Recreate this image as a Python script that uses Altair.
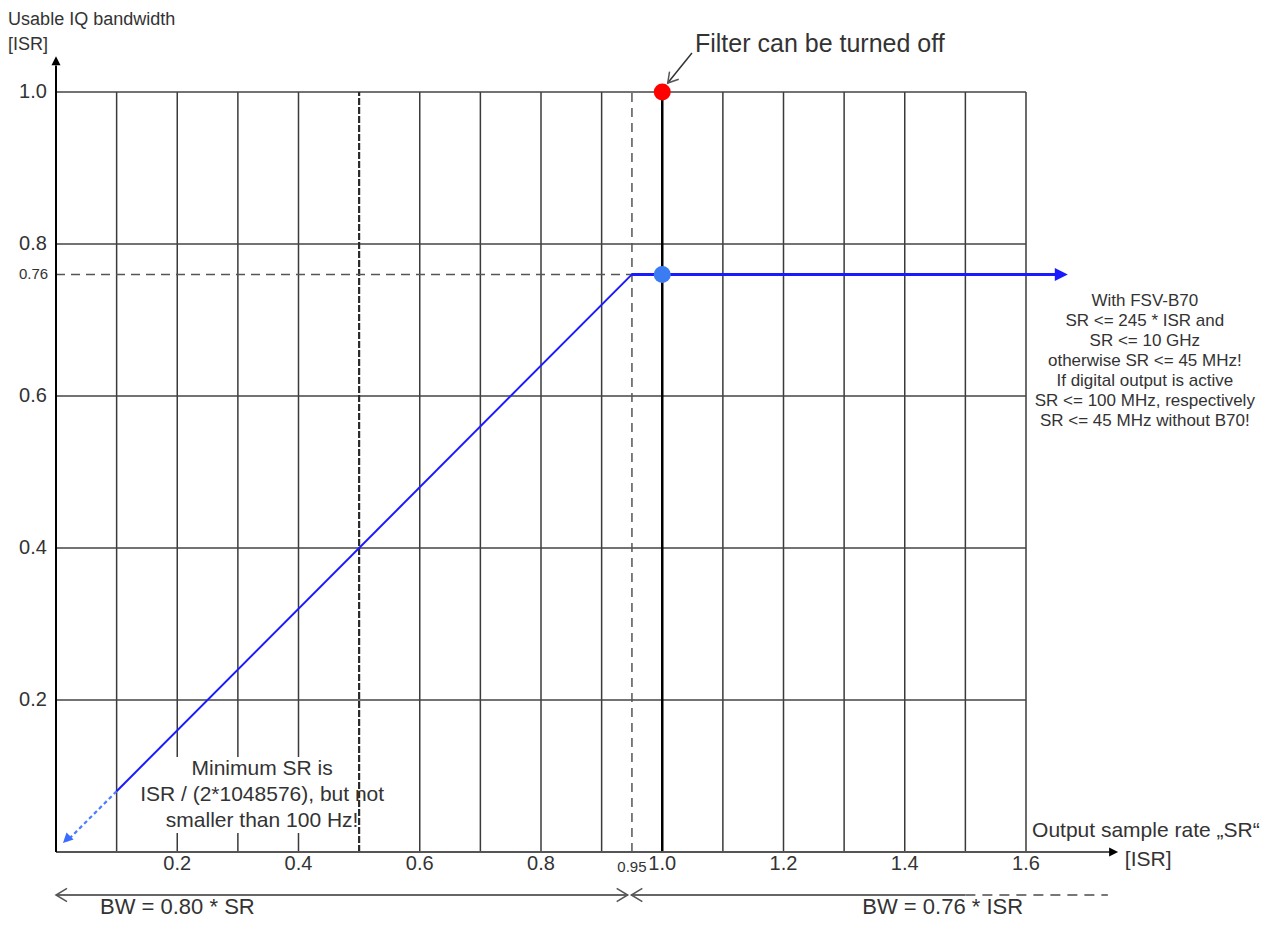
import altair as alt
import pandas as pd

FONT = "Liberation Sans"
TXT = "#333333"

# ---------------- data ----------------
grid_x = [0.1, 0.2, 0.3, 0.4, 0.6, 0.7, 0.8, 0.9, 1.1, 1.2, 1.3, 1.4, 1.5, 1.6]
grid_y = [0.2, 0.4, 0.6, 0.8, 1.0]
x_tick_values = [0.2, 0.4, 0.6, 0.8, 1.0, 1.2, 1.4, 1.6]
x_tick_labels = ["0.2", "0.4", "0.6", "0.8", "1.0", "1.2", "1.4", "1.6"]
y_tick_values = [0.2, 0.4, 0.6, 0.8, 1.0]
y_tick_labels = ["0.2", "0.4", "0.6", "0.8", "1.0"]
knee_sr = [0.95]
knee_sr_label = ["0.95"]
bw_const = [0.76]
bw_const_label = ["0.76"]
half_sr = [0.5]
full_sr = [1.0]

x_domain = [0.0, 1.6]
y_domain = [0.0, 1.0]

# usable bandwidth curve (BW = 0.80*SR up to 0.95, then 0.76)
curve_sr = [0.10, 0.95, 1.648]
curve_bw = [0.08, 0.76, 0.76]
# dashed continuation toward minimum SR
ext_sr = [0.10, 0.018]
ext_bw = [0.08, 0.0144]

blue_pt_sr = [1.0]
blue_pt_bw = [0.76]
red_pt_sr = [1.0]
red_pt_bw = [1.0]

# axis extents (arrows)
x_axis_end = 1.74
y_axis_end = 1.035

# annotation arrows
filter_arrow_from = (1.049, 1.0513)
filter_arrow_to = (1.009, 1.0118)
range_y = -0.0566
low_range = (0.0, 0.943)
high_range_solid = (0.949, 1.5)
high_range_dash = (1.5, 1.735)

# texts
filter_text = "Filter can be turned off"
fsv_note = ["With FSV-B70", "SR <= 245 * ISR and", "SR <= 10 GHz",
            "otherwise SR <= 45 MHz!", "If digital output is active",
            "SR <= 100 MHz, respectively", "SR <= 45 MHz without B70!"]
min_note = ["Minimum SR is", "ISR / (2*1048576), but not", "smaller than 100 Hz!"]
bw_low_text = "BW = 0.80 * SR"
bw_high_text = "BW = 0.76 * ISR"
x_title = ["Output sample rate \u201eSR\u201c", "[ISR]"]
y_title = ["Usable IQ bandwidth", "[ISR]"]

# ---------------- helpers ----------------
xs = alt.Scale(domain=x_domain, nice=False, zero=False)
ys = alt.Scale(domain=y_domain, nice=False, zero=False)


def X(f):
    return alt.X(f, type="quantitative", scale=xs, axis=None)


def Y(f):
    return alt.Y(f, type="quantitative", scale=ys, axis=None)


def seg_layer(df, **mk):
    return alt.Chart(df).mark_rule(**mk).encode(
        x=X("x"), y=Y("y"), x2="x2", y2="y2")


def text_layer(df, **mk):
    base = dict(font=FONT, color=TXT, lineBreak="\n")
    base.update(mk)
    return alt.Chart(df).mark_text(**base).encode(x=X("x"), y=Y("y"), text="t:N")


ARROW_FILLED = "M -1 -0.5 L 0 0 L -1 0.5 Z"
CHEVRON = "M -1 -0.6 L 0 0 L -1 0.6"

layers = []

# white box behind minimum SR note
box_df = pd.DataFrame({"x": [0.14], "x2": [0.49], "y": [0.125], "y2": [0.025]})

# vertical grid
vgrid = pd.DataFrame({"x": grid_x, "x2": grid_x, "y": y_domain[0], "y2": y_domain[1]})
layers.append(seg_layer(vgrid, color="#3a3a3a", strokeWidth=1.5))
# horizontal grid
hgrid = pd.DataFrame({"x": x_domain[0], "x2": x_domain[1], "y": grid_y, "y2": grid_y})
layers.append(seg_layer(hgrid, color="#444444", strokeWidth=1.5))
# white box
layers.append(alt.Chart(box_df).mark_rect(color="white").encode(
    x=X("x"), x2="x2", y=Y("y"), y2="y2"))
# dashed 0.5 line
half_df = pd.DataFrame({"x": half_sr, "x2": half_sr, "y": y_domain[0], "y2": y_domain[1]})
layers.append(seg_layer(half_df, color="#2a2a2a", strokeWidth=2.2, strokeDash=[7, 2]))
# thick 1.0 line
full_df = pd.DataFrame({"x": full_sr, "x2": full_sr, "y": y_domain[0], "y2": y_domain[1]})
layers.append(seg_layer(full_df, color="#000000", strokeWidth=2.5))
# dashed knee lines
knee_v = pd.DataFrame({"x": knee_sr, "x2": knee_sr, "y": y_domain[0], "y2": y_domain[1]})
layers.append(seg_layer(knee_v, color="#555555", strokeWidth=1.5, strokeDash=[9, 6]))
knee_h = pd.DataFrame({"x": [0.0], "x2": knee_sr, "y": bw_const, "y2": bw_const})
layers.append(seg_layer(knee_h, color="#555555", strokeWidth=1.5, strokeDash=[9, 6]))

# axes lines
xaxis_df = pd.DataFrame({"x": [0.0], "x2": [x_axis_end], "y": [0.0], "y2": [0.0]})
layers.append(seg_layer(xaxis_df, color="#555555", strokeWidth=2))
yaxis_df = pd.DataFrame({"x": [0.0], "x2": [0.0], "y": [0.0], "y2": [y_axis_end]})
layers.append(seg_layer(yaxis_df, color="#000000", strokeWidth=2))

# curve
curve_df = pd.DataFrame({"x": curve_sr[:-1], "x2": curve_sr[1:],
                         "y": curve_bw[:-1], "y2": curve_bw[1:]})
layers.append(seg_layer(curve_df.iloc[[0]], color="#1a1aff", strokeWidth=2))
layers.append(seg_layer(curve_df.iloc[[1]], color="#1a1aff", strokeWidth=3))
ext_df = pd.DataFrame({"x": [ext_sr[0]], "x2": [ext_sr[1]], "y": [ext_bw[0]], "y2": [ext_bw[1]]})
layers.append(seg_layer(ext_df, color="#4a7dff", strokeWidth=2.2, strokeDash=[4, 3]))

# bottom range arrows
rng1 = pd.DataFrame({"x": [low_range[0], high_range_solid[0]],
                     "x2": [low_range[1], high_range_solid[1]],
                     "y": range_y, "y2": range_y})
layers.append(seg_layer(rng1, color="#666666", strokeWidth=2))
rng2 = pd.DataFrame({"x": [high_range_dash[0]], "x2": [high_range_dash[1]],
                     "y": range_y, "y2": range_y})
layers.append(seg_layer(rng2, color="#777777", strokeWidth=2, strokeDash=[10, 7]))

# filter arrow shaft
fa = pd.DataFrame({"x": [filter_arrow_from[0]], "x2": [filter_arrow_to[0]],
                   "y": [filter_arrow_from[1]], "y2": [filter_arrow_to[1]]})
layers.append(seg_layer(fa, color="#333333", strokeWidth=1.5))

# filled arrowheads
heads = pd.DataFrame({
    "x": [1.669, 0.0115, 1.752, 0.0],
    "y": [0.76, 0.0118, 0.0, 1.047],
    "a": [0, 135, 0, 270],
    "s": [676, 400, 324, 324],
    "c": ["#1a1aff", "#3a6cff", "#000000", "#000000"],
})
layers.append(alt.Chart(heads).mark_point(shape=ARROW_FILLED, filled=True, opacity=1,
                                          strokeWidth=0).encode(
    x=X("x"), y=Y("y"), angle=alt.Angle("a:Q", scale=None),
    size=alt.Size("s:Q", scale=None, legend=None),
    color=alt.Color("c:N", scale=None)))

# open chevrons
chev = pd.DataFrame({
    "x": [low_range[0], low_range[1], high_range_solid[0], filter_arrow_to[0]],
    "y": [range_y, range_y, range_y, filter_arrow_to[1]],
    "a": [180, 0, 180, 130],
    "s": [484, 484, 484, 400],
})
layers.append(alt.Chart(chev).mark_point(shape=CHEVRON, filled=False, opacity=1,
                                         strokeWidth=1.5, color="#555555").encode(
    x=X("x"), y=Y("y"), angle=alt.Angle("a:Q", scale=None),
    size=alt.Size("s:Q", scale=None, legend=None)))

# dots
dots = pd.DataFrame({"x": blue_pt_sr + red_pt_sr, "y": blue_pt_bw + red_pt_bw,
                     "c": ["#3c7cf2", "#ff0000"]})
layers.append(alt.Chart(dots).mark_circle(size=290, opacity=1).encode(
    x=X("x"), y=Y("y"), color=alt.Color("c:N", scale=None)))

# tick labels
xt = pd.DataFrame({"x": x_tick_values, "y": -0.0237, "t": x_tick_labels})
layers.append(text_layer(xt, fontSize=20, align="center", baseline="alphabetic"))
xt2 = pd.DataFrame({"x": knee_sr, "y": -0.026, "t": knee_sr_label})
layers.append(text_layer(xt2, fontSize=15, align="center", baseline="alphabetic"))
yt = pd.DataFrame({"x": -0.015, "y": y_tick_values, "t": y_tick_labels})
layers.append(text_layer(yt, fontSize=20, align="right", baseline="middle"))
yt2 = pd.DataFrame({"x": -0.013, "y": bw_const, "t": bw_const_label})
layers.append(text_layer(yt2, fontSize=15, align="right", baseline="middle"))

# titles
ytl = pd.DataFrame({"x": [-0.079, -0.079], "y": [1.0882, 1.0553], "t": y_title})
layers.append(text_layer(ytl, fontSize=18, align="left", baseline="alphabetic"))
xtl = pd.DataFrame({"x": [1.61, 1.763], "y": [0.0197, -0.0184], "t": x_title})
layers.append(text_layer(xtl, fontSize=21, align="left", baseline="alphabetic"))

# annotations
ft = pd.DataFrame({"x": [1.054], "y": [1.0526], "t": [filter_text]})
layers.append(text_layer(ft, fontSize=25, align="left", baseline="alphabetic"))
fsv = pd.DataFrame({"x": [1.796], "y": [0.7355], "t": ["\n".join(fsv_note)]})
layers.append(text_layer(fsv, fontSize=17, align="center", baseline="top", lineHeight=20))
mn = pd.DataFrame({"x": [0.34], "y": [0.124], "t": ["\n".join(min_note)]})
layers.append(text_layer(mn, fontSize=21, align="center", baseline="top", lineHeight=26))
bwt = pd.DataFrame({"x": [0.0726, 1.33], "y": [-0.0816, -0.0816], "t": [bw_low_text, bw_high_text]})
layers.append(text_layer(bwt, fontSize=22, align="left", baseline="alphabetic"))

chart = alt.layer(*layers).properties(
    width=970, height=760,
    autosize=alt.AutoSizeParams(type="none"),
    padding={"left": 48, "top": 84, "right": 238, "bottom": 67},
).configure_view(stroke=None)

chart.save("out.html", embed_options={"renderer": "svg", "actions": False})
